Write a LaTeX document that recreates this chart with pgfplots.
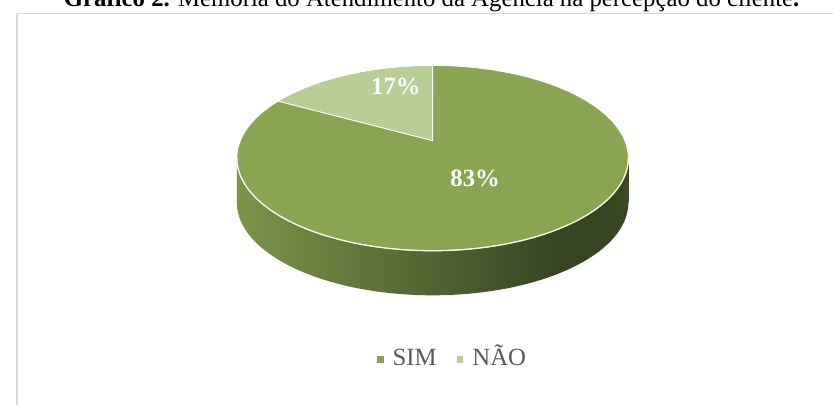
\documentclass[border=0pt]{standalone}
\usepackage{fontspec}
\setmainfont{Liberation Serif}
\usepackage{pgfplots}
\usepackage{pgfplotstable}
\pgfplotsset{compat=1.18}
\definecolor{simc}{HTML}{8AA552}
\definecolor{naoc}{HTML}{B9CD96}
\definecolor{frame}{HTML}{D9D9D9}
\definecolor{legtext}{HTML}{595959}
\definecolor{sideA}{HTML}{7C9547}
\definecolor{sideB}{HTML}{6A8140}
\definecolor{sideC}{HTML}{4E6030}
\definecolor{sideD}{HTML}{364420}
\definecolor{sideE}{HTML}{3B4923}
\pgfdeclarehorizontalshading{pieside}{100bp}{color(0bp)=(sideA); color(25bp)=(sideA); color(35bp)=(sideB); color(52bp)=(sideC); color(66bp)=(sideD); color(73bp)=(sideD); color(75bp)=(sideE); color(100bp)=(sideE)}
\pgfplotstableread{
label value
SIM 83
NAO 17
}\piedata
\begin{document}
\pgfplotstablegetelem{0}{value}\of\piedata \let\vsim\pgfplotsretval
\pgfplotstablegetelem{1}{value}\of\piedata \let\vnao\pgfplotsretval
\pgfmathsetmacro{\aA}{90}
\pgfmathsetmacro{\aB}{90+3.6*\vnao}
\pgfmathsetmacro{\aC}{\aB+3.6*\vsim}
\begin{tikzpicture}
\begin{axis}[name=ax, x=1pt, y=1pt, xmin=0, xmax=833, ymin=0, ymax=408,
  y dir=reverse, hide axis, clip=false,
  declare function={px(\t)=429+194*cos(\t)/(1+0.1872*sin(\t));
                    py(\t)=142-90.2*sin(\t)/(1+0.1872*sin(\t));},
  legend image code/.code={\fill[#1, draw=none] (0pt,-1.5pt) rectangle (7pt,5.5pt); \path[draw=none, fill=none] (0pt,2pt) -- (14pt,2pt);},
  legend style={draw=none, fill=none, at={(axis cs:449,365)}, anchor=center,
    font=\fontsize{25}{30}\selectfont, text=legtext,
    nodes={text height=8.5pt, text depth=-8.5pt},
    /tikz/every even column/.append style={column sep=18pt}},
  legend columns=2]
\draw[color=frame, line width=1.5pt] (axis cs:9.5,13.5) rectangle (axis cs:860,440);
% side of the pie
\addplot[forget plot, draw=none, shade, shading=pieside, domain=0:360, samples=181]
  ({px(x)},{py(x)+45});
\addplot[forget plot, draw=none, shade, shading=pieside]
  coordinates {(231.5,159.5) (626.5,159.5) (626.5,204.5) (231.5,204.5)};
% top face slices
\addplot[forget plot, fill=naoc, draw=white, line width=0.8pt, domain=\aA:\aB, samples=40]
  ({px(x)},{py(x)}) -- (axis cs:429,142) -- cycle;
\addplot[forget plot, fill=simc, draw=white, line width=0.8pt, domain=\aB:\aC, samples=200]
  ({px(x)},{py(x)}) -- (axis cs:429,142) -- cycle;
% front highlight
\addplot[forget plot, draw=white!90!simc, line width=1.3pt, domain=190.8:349.2, samples=120]
  ({px(x)},{py(x)});
\node[font=\bfseries\fontsize{25}{30}\selectfont, text=white, anchor=base] at (axis cs:392,95) {17\%};
\node[font=\bfseries\fontsize{25}{30}\selectfont, text=white, anchor=base] at (axis cs:472,188) {83\%};
\node[anchor=base, font=\fontsize{25}{30}\selectfont, inner sep=0pt] at (axis cs:428,7)
  {\textbf{Gráfico 2.} Memória do Atendimento da Agência na percepção do cliente\textbf{.}};
\addlegendimage{fill=simc}
\addlegendentry{SIM}
\addlegendimage{fill=naoc}
\addlegendentry{NÃO}
\end{axis}
\pgfresetboundingbox
\useasboundingbox (ax.south west) rectangle (ax.north east);
\end{tikzpicture}
\end{document}
